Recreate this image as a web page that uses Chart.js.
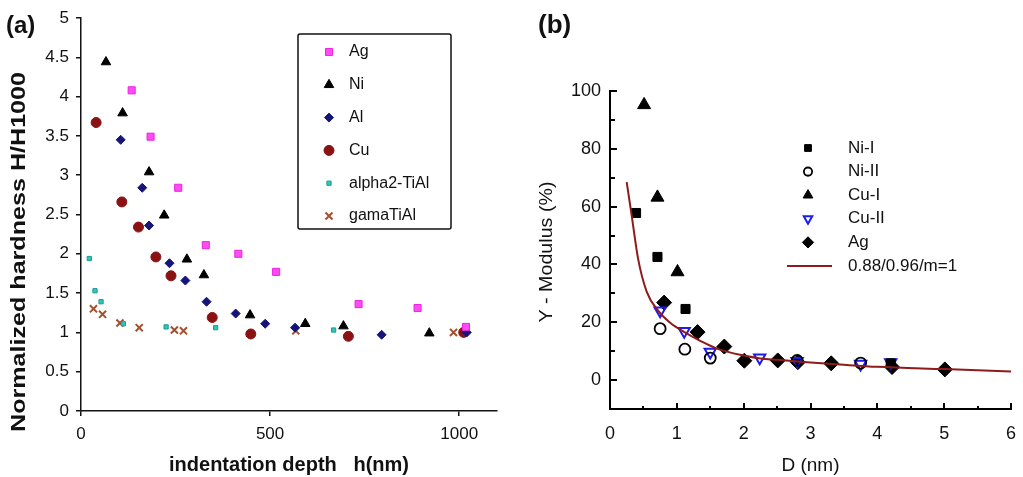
<!DOCTYPE html>
<html>
<head>
<meta charset="utf-8">
<script src="https://cdn.jsdelivr.net/npm/chart.js@4.4.0/dist/chart.umd.min.js"></script>
<style>
  html, body { margin: 0; padding: 0; background: #fff; }
  #wrap { position: relative; width: 1023px; height: 477px; overflow: hidden; }
  canvas { position: absolute; top: 0; }
  #chartA { left: 0; }
  #chartB { left: 515px; }
  .tag { position: absolute; font-family: "Liberation Sans", Arial, sans-serif; font-weight: bold; color: #111; line-height: 1; }
</style>
</head>
<body>
<div id="wrap">
  <canvas id="chartA" width="515" height="477"></canvas>
  <canvas id="chartB" width="508" height="477"></canvas>
  <div class="tag" style="left:6px; top:13px; font-size:24px">(a)</div>
  <div class="tag" style="left:538px; top:11px; font-size:26px">(b)</div>
</div>
<script>
// ---- (a) normalized hardness H/H1000 vs indentation depth h (nm)
const agDepth = [134, 184, 257, 330, 416, 516, 734, 890, 1018];
const agHard  = [4.08, 3.49, 2.84, 2.11, 2.0, 1.77, 1.36, 1.31, 1.07];
const niDepth = [66, 110, 180, 220, 280, 325, 447, 593, 694, 921];
const niHard  = [4.44, 3.79, 3.04, 2.49, 1.93, 1.73, 1.22, 1.11, 1.08, 0.99];
const alDepth = [105, 162, 180, 234, 276, 332, 409, 487, 566, 795, 1020];
const alHard  = [3.45, 2.84, 2.36, 1.88, 1.66, 1.39, 1.24, 1.11, 1.06, 0.97, 1.0];
const cuDepth = [40, 108, 152, 198, 238, 347, 449, 707, 1012];
const cuHard  = [3.67, 2.66, 2.34, 1.96, 1.72, 1.19, 0.98, 0.95, 1.0];
const a2Depth = [22, 37, 53, 112, 225, 356, 668];
const a2Hard  = [1.94, 1.53, 1.39, 1.11, 1.07, 1.06, 1.03];
const gaDepth = [33, 57, 103, 154, 247, 271, 568, 985];
const gaHard  = [1.30, 1.23, 1.12, 1.06, 1.03, 1.02, 1.02, 1.0];
const depthTicks = [0, 500, 1000];
const hardTicks  = [0, 0.5, 1, 1.5, 2, 2.5, 3, 3.5, 4, 4.5, 5];

// ---- (b) Y-modulus (%) vs D (nm)
const niIDiam  = [0.39, 0.71, 1.13, 4.2];
const niIMod   = [57.8, 42.6, 24.6, 5.8];
const niIIDiam = [0.75, 1.12, 1.5, 2.8, 3.75];
const niIIMod  = [17.8, 10.7, 7.6, 6.8, 5.9];
const cuIDiam  = [0.51, 0.71, 1.01];
const cuIMod   = [95.2, 63.2, 37.4];
const cuIIDiam = [0.75, 1.11, 1.5, 2.24, 2.8, 3.75, 4.2];
const cuIIMod  = [24.0, 16.9, 9.7, 7.7, 6.5, 5.6, 6.1];
const agDiam   = [0.81, 1.31, 1.71, 2.01, 2.51, 2.81, 3.31, 4.22, 5.01];
const agMod    = [26.8, 16.6, 11.6, 6.7, 6.8, 6.2, 5.8, 4.5, 3.7];
const fitDiam  = [0.25, 0.33, 0.42, 0.55, 0.72, 0.9, 1.12, 1.35, 1.6, 2.0, 2.25, 2.5, 3.0, 3.5, 4.0, 5.0, 6.0];
const fitMod   = [68.5, 56, 42, 30.5, 24, 19.8, 16.5, 13.6, 10.9, 8.5, 7.5, 7.0, 6.1, 5.3, 4.6, 3.8, 3.0];
const diamTicks = [0, 1, 2, 3, 4, 5, 6];
const modTicks  = [0, 20, 40, 60, 80, 100];

const FONT = '"Liberation Sans", Arial, Helvetica, sans-serif';
Chart.defaults.font.family = FONT;
Chart.defaults.color = '#111';

const pts = (xs, ys) => xs.map((x, i) => ({x: x, y: ys[i]}));
const fixedTicks = vals => scale => { scale.ticks = vals.map(v => ({value: v})); };

function scatterSet(label, xs, ys, st) {
  return {
    label: label,
    data: pts(xs, ys),
    pointStyle: st.style,
    pointRadius: st.r,
    pointHoverRadius: st.r,
    rotation: st.rot || 0,
    backgroundColor: st.fill,
    borderColor: st.line,
    borderWidth: st.bw,
    order: 1
  };
}

// legend drawn inside the plot, markers taken from the datasets
function innerLegend(opt) {
  return {
    id: 'innerLegend',
    afterDraw(chart) {
      const ctx = chart.ctx;
      ctx.save();
      if (opt.frame) {
        const f = opt.frame;
        ctx.strokeStyle = '#111';
        ctx.lineWidth = 1.5;
        ctx.beginPath();
        ctx.roundRect(f.x, f.y, f.w, f.h, 2);
        ctx.stroke();
      }
      chart.data.datasets.forEach((ds, i) => {
        const y = opt.y0 + i * opt.dy;
        if (ds.showLine) {
          ctx.strokeStyle = ds.borderColor;
          ctx.lineWidth = ds.borderWidth;
          ctx.beginPath();
          ctx.moveTo(opt.lineX0, y);
          ctx.lineTo(opt.lineX1, y);
          ctx.stroke();
        } else {
          ctx.fillStyle = ds.backgroundColor;
          ctx.strokeStyle = ds.borderColor;
          ctx.lineWidth = ds.borderWidth;
          Chart.helpers.drawPoint(ctx, {
            pointStyle: ds.pointStyle,
            radius: ds.pointRadius * opt.scale,
            rotation: ds.rotation,
            borderWidth: ds.borderWidth
          }, opt.markX, y);
        }
        ctx.fillStyle = '#111';
        ctx.font = opt.font;
        ctx.textAlign = 'left';
        ctx.textBaseline = 'middle';
        ctx.fillText(ds.label, opt.textX, y);
      });
      ctx.restore();
    }
  };
}

// rotated y-axis title, stretched to a given length
function sideTitle(text, font, cx, cy, length) {
  return {
    id: 'sideTitle',
    afterDraw(chart) {
      const ctx = chart.ctx;
      ctx.save();
      ctx.font = font;
      const w = ctx.measureText(text).width;
      ctx.translate(cx, cy);
      ctx.rotate(-Math.PI / 2);
      ctx.scale(length / w, 1);
      ctx.fillStyle = '#111';
      ctx.textAlign = 'center';
      ctx.textBaseline = 'middle';
      ctx.fillText(text, 0, 0);
      ctx.restore();
    }
  };
}

// inward tick marks, long on labelled values and short between
const inwardTicks = {
  id: 'inwardTicks',
  afterDraw(chart) {
    const ctx = chart.ctx;
    const area = chart.chartArea;
    const sx = chart.scales.x, sy = chart.scales.y;
    ctx.save();
    ctx.strokeStyle = '#000';
    ctx.lineWidth = 2;
    sx.ticks.forEach(t => {
      const px = Math.round(sx.getPixelForValue(t.value));
      const len = diamTicks.includes(t.value) ? 6 : 3;
      ctx.beginPath();
      ctx.moveTo(px, area.bottom);
      ctx.lineTo(px, area.bottom - len);
      ctx.stroke();
    });
    sy.ticks.forEach(t => {
      if (t.value <= sy.min) return;
      const py = Math.round(sy.getPixelForValue(t.value));
      const len = modTicks.includes(t.value) ? 7 : 5;
      ctx.beginPath();
      ctx.moveTo(area.left, py);
      ctx.lineTo(area.left + len, py);
      ctx.stroke();
    });
    ctx.restore();
  }
};

// ---------------- chart (a)
const styleA = {
  ag: {style: 'rect', r: 5, fill: '#ff4cf2', line: '#ee22e0', bw: 1},
  ni: {style: 'triangle', r: 5.5, fill: '#000', line: '#000', bw: 1},
  al: {style: 'rectRot', r: 4.5, fill: '#14147a', line: '#14147a', bw: 1},
  cu: {style: 'circle', r: 5, fill: '#8a1212', line: '#8a1212', bw: 1},
  a2: {style: 'rect', r: 3, fill: '#2cc8bd', line: '#1a9c94', bw: 1},
  ga: {style: 'crossRot', r: 5, fill: '#a4502e', line: '#a4502e', bw: 2}
};

new Chart(document.getElementById('chartA'), {
  type: 'scatter',
  data: {
    datasets: [
      scatterSet('Ag', agDepth, agHard, styleA.ag),
      scatterSet('Ni', niDepth, niHard, styleA.ni),
      scatterSet('Al', alDepth, alHard, styleA.al),
      scatterSet('Cu', cuDepth, cuHard, styleA.cu),
      scatterSet('alpha2-TiAl', a2Depth, a2Hard, styleA.a2),
      scatterSet('gamaTiAl', gaDepth, gaHard, styleA.ga)
    ]
  },
  options: {
    responsive: false,
    animation: false,
    devicePixelRatio: 1,
    layout: {padding: {left: 0, top: 18, right: 18, bottom: 0}},
    plugins: {legend: {display: false}, tooltip: {enabled: false}},
    scales: {
      x: {
        type: 'linear', min: 0, max: 1100,
        grid: {drawOnChartArea: false, color: '#111', lineWidth: 1.5, tickLength: 5},
        border: {color: '#111', width: 1.5},
        afterBuildTicks: fixedTicks(depthTicks),
        ticks: {
          autoSkip: false, padding: 8, maxRotation: 0,
          font: {size: 17}, color: '#111',
          callback: v => String(v)
        },
        title: {
          display: true, text: 'indentation depth   h(nm)', color: '#111',
          font: {size: 20, weight: 'bold', lineHeight: 1.2}, padding: {top: 0, bottom: 0}
        },
        afterFit: s => { s.height = 66; }
      },
      y: {
        min: 0, max: 5,
        grid: {drawOnChartArea: false, color: '#111', lineWidth: 1.5, tickLength: 5},
        border: {color: '#111', width: 1.5},
        afterBuildTicks: fixedTicks(hardTicks),
        ticks: {
          autoSkip: false, padding: 7, font: {size: 17}, color: '#111',
          callback: v => String(v)
        },
        afterFit: s => { s.width = 81; }
      }
    }
  },
  plugins: [
    innerLegend({
      frame: {x: 298, y: 34, w: 153, h: 195},
      y0: 52, dy: 32.8, markX: 329, textX: 349, scale: 1,
      font: '16px ' + FONT
    }),
    sideTitle('Normalized hardness H/H1000', 'bold 20px ' + FONT, 19, 252, 360)
  ]
});

// ---------------- chart (b)
const styleB = {
  niI:  {style: 'rect', r: 6.4, fill: '#000', line: '#000', bw: 1},
  niII: {style: 'circle', r: 5.5, fill: 'rgba(255,255,255,0)', line: '#000', bw: 1.8},
  cuI:  {style: 'triangle', r: 7.5, fill: '#000', line: '#000', bw: 1},
  cuII: {style: 'triangle', r: 6.5, rot: 180, fill: 'rgba(255,255,255,0)', line: '#1c1cf0', bw: 2},
  ag:   {style: 'rectRot', r: 7.5, fill: '#000', line: '#000', bw: 1}
};

new Chart(document.getElementById('chartB'), {
  type: 'scatter',
  data: {
    datasets: [
      scatterSet('Ni-I', niIDiam, niIMod, styleB.niI),
      scatterSet('Ni-II', niIIDiam, niIIMod, styleB.niII),
      scatterSet('Cu-I', cuIDiam, cuIMod, styleB.cuI),
      scatterSet('Cu-II', cuIIDiam, cuIIMod, styleB.cuII),
      scatterSet('Ag', agDiam, agMod, styleB.ag),
      {
        type: 'line',
        label: '0.88/0.96/m=1',
        data: pts(fitDiam, fitMod),
        showLine: true,
        borderColor: '#8e1b1b',
        borderWidth: 2,
        pointRadius: 0,
        cubicInterpolationMode: 'monotone',
        order: 0
      }
    ]
  },
  options: {
    responsive: false,
    animation: false,
    devicePixelRatio: 1,
    layout: {padding: {left: 0, top: 91, right: 12, bottom: 0}},
    plugins: {legend: {display: false}, tooltip: {enabled: false}},
    scales: {
      x: {
        type: 'linear', min: 0, max: 6,
        grid: {display: false, drawTicks: false},
        border: {display: true, color: '#000', width: 2},
        ticks: {
          stepSize: 0.5, autoSkip: false, padding: 6, maxRotation: 0,
          font: {size: 18, lineHeight: 2.1}, color: '#111',
          callback: v => diamTicks.includes(v) ? String(v) : ''
        },
        title: {
          display: true, text: 'D (nm)', color: '#111',
          font: {size: 19, lineHeight: 1.2}, padding: {top: 0, bottom: 0}
        },
        afterFit: s => { s.height = 68; }
      },
      y: {
        min: -10, max: 100,
        grid: {display: false, drawTicks: false},
        border: {display: true, color: '#000', width: 2},
        ticks: {
          stepSize: 10, autoSkip: false, padding: 9,
          font: {size: 18}, color: '#111',
          callback: v => modTicks.includes(v) ? String(v) : ''
        },
        afterFit: s => { s.width = 95; }
      }
    }
  },
  plugins: [
    inwardTicks,
    innerLegend({
      y0: 148, dy: 23.6, markX: 293, textX: 333, scale: 0.75,
      lineX0: 272, lineX1: 317,
      font: '17px ' + FONT
    }),
    sideTitle('Y - Modulus (%)', '18px ' + FONT, 32, 252, 141)
  ]
});
</script>
</body>
</html>
